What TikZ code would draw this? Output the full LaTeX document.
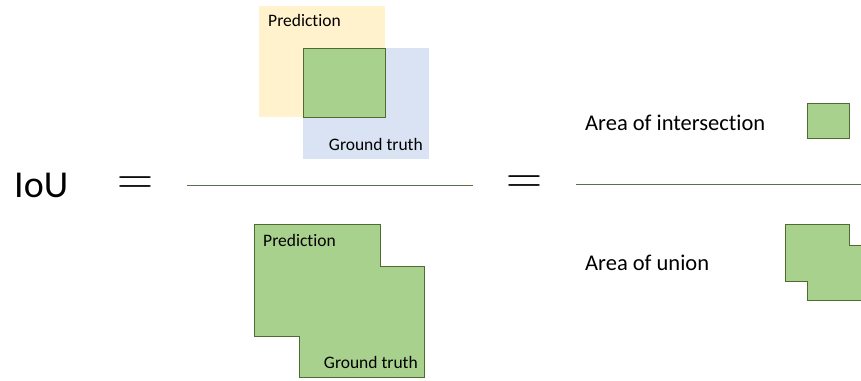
\documentclass[tikz,border=0pt]{standalone}
\usepackage{fontspec}
\setmainfont[Ligatures=NoCommon]{Carlito}
\newfontfamily\lmr{Latin Modern Roman}
\definecolor{predfill}{HTML}{FFF2CC}
\definecolor{gtfill}{HTML}{DAE3F3}
\definecolor{shapefill}{HTML}{A9D18E}
\definecolor{shapeline}{HTML}{4E6B30}
\definecolor{fracline}{HTML}{5A7046}
\tikzset{
  greenshape/.style={fill=shapefill, draw=shapeline, line width=1pt},
  fracbar/.style={draw=fracline, line width=1pt},
  smalllabel/.style={inner sep=0pt, font=\fontsize{17.5}{20}\selectfont},
  biglabel/.style={inner sep=0pt, font=\fontsize{22.5}{26}\selectfont},
  eqsign/.style={inner sep=0pt, font=\lmr\fontsize{50}{50}\selectfont}
}
\begin{document}
\begin{tikzpicture}[x=1pt,y=-1pt]
\useasboundingbox (0,0) rectangle (861,380);
% top: prediction and ground truth boxes
\fill[predfill] (259,6) rectangle (385,117);
\fill[gtfill] (303,48) rectangle (429,159);
\draw[greenshape] (303,48) rectangle (385,117);
\node[smalllabel, anchor=base west] (p1) at (268,27) {Prediction};
\node[smalllabel, anchor=base east] (g1) at (423,150) {Ground truth};
% bottom: union
\draw[greenshape] (254,224) -- (380,224) -- (380,266) -- (424,266) -- (424,377)
  -- (299,377) -- (299,336) -- (254,336) -- cycle;
\node[smalllabel, anchor=base west] (p2) at (263,246) {Prediction};
\node[smalllabel, anchor=base east] (g2) at (418,368) {Ground truth};
% IoU and equals
\node[inner sep=0pt, anchor=base west, font=\fontsize{38}{44}\selectfont] (iou) at (14,197) {IoU};
\node[eqsign] (eq1) at (135.5,185.5) {=};
\node[eqsign] (eq2) at (524.5,185) {=};
% fraction lines
\coordinate (f1a) at (187,185);
\coordinate (f1b) at (473,185);
\coordinate (f2a) at (576,184.5);
\coordinate (f2b) at (861,184.5);
\draw[fracbar] (f1a) -- (f1b);
\draw[fracbar] (f2a) -- (f2b);
% right side
\node[biglabel, anchor=base west] (ai) at (585,130) {Area of intersection};
\node[biglabel, anchor=base west] (au) at (585,270) {Area of union};
\draw[greenshape] (807,103) rectangle (849,138);
\begin{scope}
\clip (0,0) rectangle (861,380);
\draw[greenshape] (785,224) -- (849,224) -- (849,245) -- (871,245) -- (871,300)
  -- (807,300) -- (807,281) -- (785,281) -- cycle;
\end{scope}
\end{tikzpicture}
\end{document}
